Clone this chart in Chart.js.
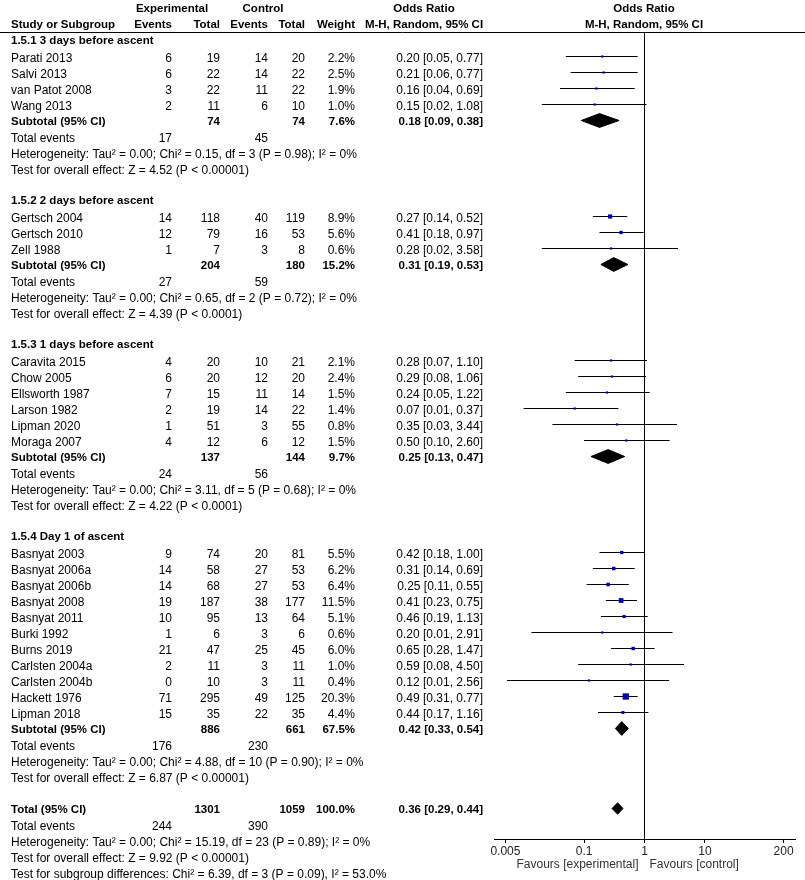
<!DOCTYPE html>
<html>
<head>
<meta charset="utf-8">
<script src="https://cdn.jsdelivr.net/npm/chart.js@4.4.0/dist/chart.umd.min.js"></script>
<style>
body { margin: 0; background: #fff; }
canvas { display: block; }
</style>
</head>
<body>
<canvas id="forestPlot" width="805" height="880"></canvas>
<script>
// subgroups
var groupTitles = ['1.5.1 3 days before ascent', '1.5.2 2 days before ascent', '1.5.3 1 days before ascent', '1.5.4 Day 1 of ascent'];
var groupSizes = [4, 3, 6, 11];
var subExpEvents = [17, 27, 24, 176];
var subExpTotal = [74, 204, 137, 886];
var subCtlEvents = [45, 59, 56, 230];
var subCtlTotal = [74, 180, 144, 661];
var subWeight = [7.6, 15.2, 9.7, 67.5];
var subOR = [0.18, 0.31, 0.25, 0.42];
var subLow = [0.09, 0.19, 0.13, 0.33];
var subHigh = [0.38, 0.53, 0.47, 0.54];
var subChi2 = [0.15, 0.65, 3.11, 4.88];
var subDf = [3, 2, 5, 10];
var subPHet = ['0.98', '0.72', '0.68', '0.90'];
var subZ = [4.52, 4.39, 4.22, 6.87];
var subPZ = ['< 0.00001', '< 0.0001', '< 0.0001', '< 0.00001'];

// studies
var studyNames = ['Parati 2013', 'Salvi 2013', 'van Patot 2008', 'Wang 2013',
    'Gertsch 2004', 'Gertsch 2010', 'Zell 1988',
    'Caravita 2015', 'Chow 2005', 'Ellsworth 1987', 'Larson 1982', 'Lipman 2020', 'Moraga 2007',
    'Basnyat 2003', 'Basnyat 2006a', 'Basnyat 2006b', 'Basnyat 2008', 'Basnyat 2011', 'Burki 1992',
    'Burns 2019', 'Carlsten 2004a', 'Carlsten 2004b', 'Hackett 1976', 'Lipman 2018'];
var expEvents = [6, 6, 3, 2, 14, 12, 1, 4, 6, 7, 2, 1, 4, 9, 14, 14, 19, 10, 1, 21, 2, 0, 71, 15];
var expTotal = [19, 22, 22, 11, 118, 79, 7, 20, 20, 15, 19, 51, 12, 74, 58, 68, 187, 95, 6, 47, 11, 10, 295, 35];
var ctlEvents = [14, 14, 11, 6, 40, 16, 3, 10, 12, 11, 14, 3, 6, 20, 27, 27, 38, 13, 3, 25, 3, 3, 49, 22];
var ctlTotal = [20, 22, 22, 10, 119, 53, 8, 21, 20, 14, 22, 55, 12, 81, 53, 53, 177, 64, 6, 45, 11, 11, 125, 35];
var weights = [2.2, 2.5, 1.9, 1.0, 8.9, 5.6, 0.6, 2.1, 2.4, 1.5, 1.4, 0.8, 1.5, 5.5, 6.2, 6.4, 11.5, 5.1, 0.6, 6.0, 1.0, 0.4, 20.3, 4.4];
var oddsRatio = [0.20, 0.21, 0.16, 0.15, 0.27, 0.41, 0.28, 0.28, 0.29, 0.24, 0.07, 0.35, 0.50, 0.42, 0.31, 0.25, 0.41, 0.46, 0.20, 0.65, 0.59, 0.12, 0.49, 0.44];
var ciLow = [0.05, 0.06, 0.04, 0.02, 0.14, 0.18, 0.02, 0.07, 0.08, 0.05, 0.01, 0.03, 0.10, 0.18, 0.14, 0.11, 0.23, 0.19, 0.0135, 0.28, 0.08, 0.0053, 0.31, 0.17];
var ciHigh = [0.77, 0.77, 0.69, 1.08, 0.52, 0.97, 3.58, 1.10, 1.06, 1.22, 0.37, 3.44, 2.60, 1.00, 0.69, 0.55, 0.75, 1.13, 2.91, 1.47, 4.50, 2.56, 0.77, 1.16];

// overall
var totalExpEvents = 244, totalExpN = 1301, totalCtlEvents = 390, totalCtlN = 1059;
var totalOR = 0.36, totalLow = 0.29, totalHigh = 0.44;
var totalChi2 = 15.19, totalDf = 23, totalPHet = '0.89', totalZ = 9.92, totalPZ = '< 0.00001';
var subgroupChi2 = 6.39, subgroupDf = 3, subgroupP = '0.09', subgroupI2 = '53.0';

var xTicks = [0.005, 0.1, 1, 10, 200];

document.addEventListener("DOMContentLoaded", function() {
    var FONT = '"Liberation Sans", Arial, sans-serif';
    // rows sit on half pixels so the 1px lines stay crisp
    var yTop = -1.53125, yBottom = 48.90625;

    // row layout
    var studyRows = [], groupRows = [];
    var row = 0, k = 0;
    for (var g = 0; g < groupSizes.length; g++) {
        var r = { header: row - 1.125, studies: [] };
        for (var i = 0; i < groupSizes[g]; i++) {
            studyRows[k] = row + i;
            r.studies.push(k);
            k++;
        }
        r.subtotal = row + groupSizes[g];
        r.events = r.subtotal + 1;
        r.het = r.subtotal + 2;
        r.test = r.subtotal + 3;
        groupRows.push(r);
        row += groupSizes[g] + 6;
    }
    var totalRow = groupRows[groupRows.length - 1].test + 2;

    function fmt(v) { return v.toFixed(2); }
    function ciText(o, l, h) { return fmt(o) + ' [' + fmt(l) + ', ' + fmt(h) + ']'; }

    function diamond(o, l, h, r, hh) {
        return {
            data: [{x: l, y: r}, {x: o, y: r - hh}, {x: h, y: r}, {x: o, y: r + hh}, {x: l, y: r}],
            borderColor: '#000',
            backgroundColor: '#000',
            borderWidth: 1,
            pointRadius: 0,
            fill: 'shape',
            tension: 0
        };
    }

    var datasets = [];
    datasets.push({
        data: oddsRatio.map(function(o, i) { return {x: o, y: studyRows[i]}; }),
        showLine: false,
        pointStyle: 'rect',
        pointRadius: function(c) {
            var side = Math.max(2.2, 1.4 * Math.sqrt(weights[c.dataIndex]));
            return side / Math.SQRT2;
        },
        pointBackgroundColor: '#0000b0',
        pointBorderWidth: 0
    });
    for (var i = 0; i < studyNames.length; i++) {
        datasets.push({
            data: [{x: ciLow[i], y: studyRows[i]}, {x: ciHigh[i], y: studyRows[i]}],
            borderColor: '#000',
            borderWidth: 1,
            pointRadius: 0
        });
    }
    for (var g = 0; g < groupTitles.length; g++) {
        datasets.push(diamond(subOR[g], subLow[g], subHigh[g], groupRows[g].subtotal, 0.43));
    }
    datasets.push(diamond(totalOR, totalLow, totalHigh, totalRow, 0.36));
    datasets.push({
        data: [{x: 1, y: yTop}, {x: 1, y: yBottom}],
        borderColor: '#000',
        borderWidth: 1,
        pointRadius: 0
    });

    var tablePlugin = {
        id: 'tabla',
        afterDraw: function(chart) {
            var c = chart.ctx;
            var ys = chart.scales.y;
            c.save();
            c.fillStyle = '#000';
            c.textBaseline = 'middle';
            function txt(s, x, py, align, bold) {
                c.font = bold ? 'bold 11.5px ' + FONT : '12px ' + FONT;
                c.textAlign = align;
                c.fillText(s, x, py);
            }
            function at(r) { return ys.getPixelForValue(r) + 2; }

            // header
            txt('Experimental', 172, 9, 'center', true);
            txt('Control', 263, 9, 'center', true);
            txt('Odds Ratio', 424, 9, 'center', true);
            txt('Odds Ratio', 644, 9, 'center', true);
            txt('Study or Subgroup', 11, 25, 'left', true);
            txt('Events', 172, 25, 'right', true);
            txt('Total', 220, 25, 'right', true);
            txt('Events', 268, 25, 'right', true);
            txt('Total', 305, 25, 'right', true);
            txt('Weight', 355, 25, 'right', true);
            txt('M-H, Random, 95% CI', 424, 25, 'center', true);
            txt('M-H, Random, 95% CI', 644, 25, 'center', true);
            c.strokeStyle = '#000';
            c.lineWidth = 1;
            c.beginPath();
            c.moveTo(0, 32.5);
            c.lineTo(805, 32.5);
            c.stroke();

            for (var g = 0; g < groupRows.length; g++) {
                var r = groupRows[g];
                txt(groupTitles[g], 11, at(r.header), 'left', true);
                r.studies.forEach(function(i) {
                    var py = at(studyRows[i]);
                    txt(studyNames[i], 11, py, 'left', false);
                    txt(String(expEvents[i]), 172, py, 'right', false);
                    txt(String(expTotal[i]), 220, py, 'right', false);
                    txt(String(ctlEvents[i]), 268, py, 'right', false);
                    txt(String(ctlTotal[i]), 305, py, 'right', false);
                    txt(weights[i].toFixed(1) + '%', 355, py, 'right', false);
                    txt(ciText(oddsRatio[i], ciLow[i], ciHigh[i]), 483, py, 'right', false);
                });
                var py = at(r.subtotal) - 1;
                txt('Subtotal (95% CI)', 11, py, 'left', true);
                txt(String(subExpTotal[g]), 220, py, 'right', true);
                txt(String(subCtlTotal[g]), 305, py, 'right', true);
                txt(subWeight[g].toFixed(1) + '%', 355, py, 'right', true);
                txt(ciText(subOR[g], subLow[g], subHigh[g]), 483, py, 'right', true);
                py = at(r.events);
                txt('Total events', 11, py, 'left', false);
                txt(String(subExpEvents[g]), 172, py, 'right', false);
                txt(String(subCtlEvents[g]), 268, py, 'right', false);
                txt('Heterogeneity: Tau\u00b2 = 0.00; Chi\u00b2 = ' + fmt(subChi2[g]) + ', df = ' + subDf[g] +
                    ' (P = ' + subPHet[g] + '); I\u00b2 = 0%', 11, at(r.het), 'left', false);
                txt('Test for overall effect: Z = ' + fmt(subZ[g]) + ' (P ' + subPZ[g] + ')', 11, at(r.test), 'left', false);
            }

            var py = at(totalRow) - 1;
            txt('Total (95% CI)', 11, py, 'left', true);
            txt(String(totalExpN), 220, py, 'right', true);
            txt(String(totalCtlN), 305, py, 'right', true);
            txt('100.0%', 355, py, 'right', true);
            txt(ciText(totalOR, totalLow, totalHigh), 483, py, 'right', true);
            py = at(totalRow + 1);
            txt('Total events', 11, py, 'left', false);
            txt(String(totalExpEvents), 172, py, 'right', false);
            txt(String(totalCtlEvents), 268, py, 'right', false);
            txt('Heterogeneity: Tau\u00b2 = 0.00; Chi\u00b2 = ' + fmt(totalChi2) + ', df = ' + totalDf +
                ' (P = ' + totalPHet + '); I\u00b2 = 0%', 11, at(totalRow + 2), 'left', false);
            txt('Test for overall effect: Z = ' + fmt(totalZ) + ' (P ' + totalPZ + ')', 11, at(totalRow + 3), 'left', false);
            txt('Test for subgroup differences: Chi\u00b2 = ' + fmt(subgroupChi2) + ', df = ' + subgroupDf +
                ' (P = ' + subgroupP + '), I\u00b2 = ' + subgroupI2 + '%', 11, at(totalRow + 4), 'left', false);

            // favours labels
            c.fillStyle = '#333';
            var x1 = chart.scales.x.getPixelForValue(1);
            txt('Favours [experimental]', x1 - 6, 865, 'right', false);
            txt('Favours [control]', x1 + 5, 865, 'left', false);
            c.restore();
        }
    };

    var ctx = document.getElementById("forestPlot").getContext("2d");
    var forestPlot = new Chart(ctx, {
        type: 'line',
        data: { datasets: datasets },
        options: {
            responsive: false,
            animation: false,
            devicePixelRatio: 1,
            layout: { padding: { left: 494, right: 10, top: 32, bottom: 19 } },
            plugins: {
                legend: { display: false },
                tooltip: { enabled: false }
            },
            scales: {
                x: {
                    type: 'logarithmic',
                    min: Math.pow(10, -2.49),
                    max: Math.pow(10, 2.49),
                    afterBuildTicks: function(scale) {
                        scale.ticks = xTicks.map(function(v) { return {value: v}; });
                    },
                    afterFit: function(scale) { scale.height = 22; },
                    ticks: {
                        autoSkip: false,
                        maxRotation: 0,
                        color: '#222',
                        padding: 1,
                        font: { size: 12, family: FONT },
                        callback: function(v) { return String(v); }
                    },
                    grid: {
                        drawOnChartArea: false,
                        drawTicks: true,
                        tickLength: 4,
                        color: '#000'
                    },
                    border: { display: true, color: '#000', width: 1 }
                },
                y: {
                    type: 'linear',
                    display: false,
                    reverse: true,
                    min: yTop,
                    max: yBottom
                }
            }
        },
        plugins: [tablePlugin]
    });
});
</script>
</body>
</html>
